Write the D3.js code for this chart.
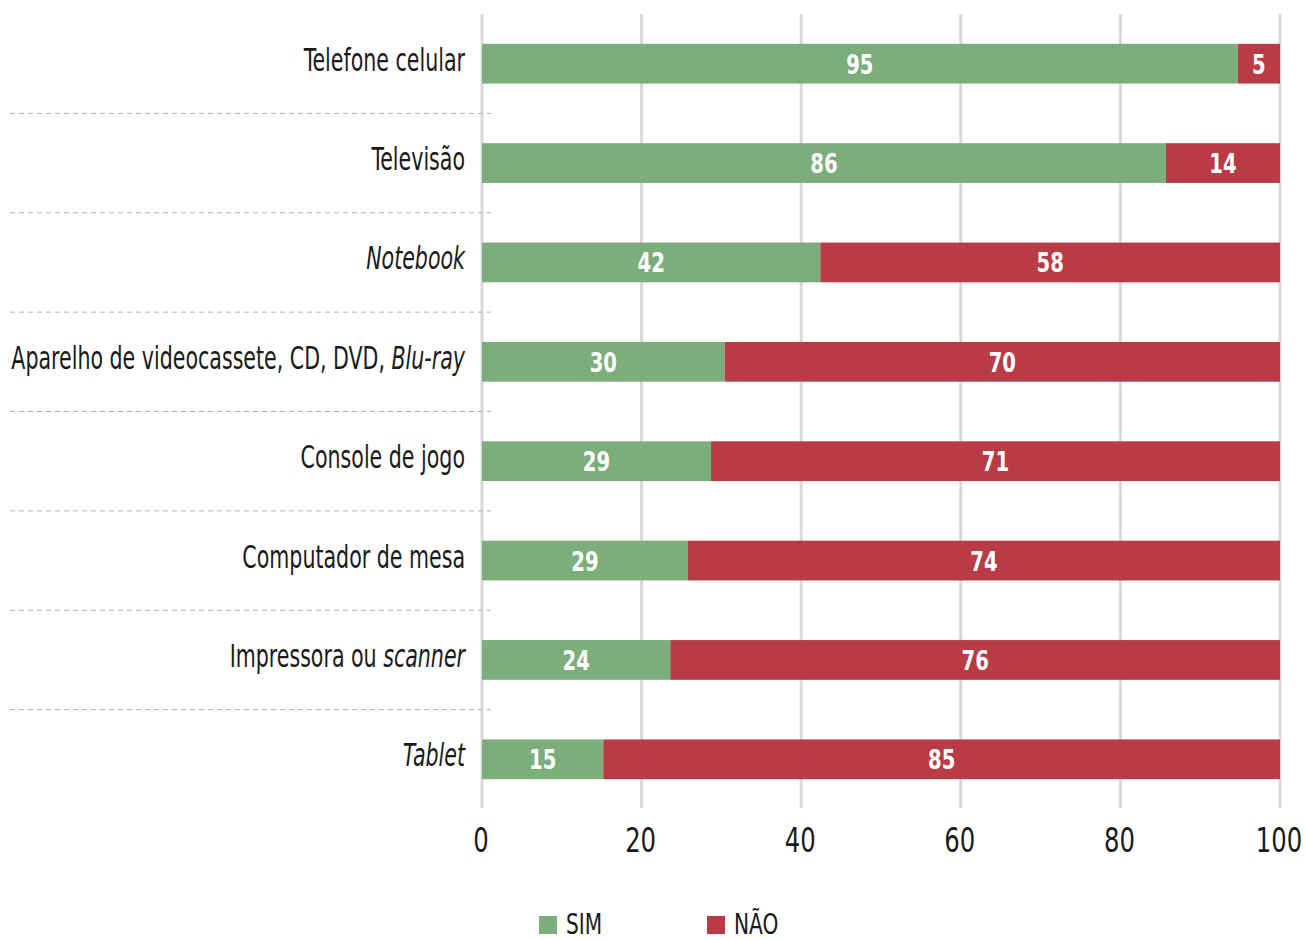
<!DOCTYPE html>
<html>
<head>
<meta charset="utf-8">
<script src="https://cdn.jsdelivr.net/npm/d3@7"></script>
<style>
  html, body { margin: 0; padding: 0; background: #fff; }
  svg { display: block; }
</style>
</head>
<body>
<svg id="chart"></svg>
<script>
// Categories (text between * is italic)
const categories = [
  'Telefone celular',
  'Televisão',
  '*Notebook*',
  'Aparelho de videocassete, CD, DVD, *Blu-ray*',
  'Console de jogo',
  'Computador de mesa',
  'Impressora ou *scanner*',
  '*Tablet*'
];

// bar lengths as drawn
const simValues = [94.7, 85.7, 42.4, 30.4, 28.7, 25.8, 23.6, 15.2];
const naoValues = [5.3, 14.3, 57.6, 69.6, 71.3, 74.2, 76.4, 84.8];

// labels printed on the bars
const simLabels = ['95', '86', '42', '30', '29', '29', '24', '15'];
const naoLabels = ['5', '14', '58', '70', '71', '74', '76', '85'];

const xTicks = [0, 20, 40, 60, 80, 100];
const seriesNames = ['SIM', 'NÃO'];

const COLORS = { sim: '#7bae7b', nao: '#b83b45' };
const FONT = '"Liberation Sans Narrow", "Arial Narrow", "DejaVu Sans Condensed", sans-serif';

const width = 1306, height = 940;
const svg = d3.select('#chart').attr('width', width).attr('height', height)
  .style('font-family', FONT);

const x = d3.scaleLinear().domain([0, 100]).range([482, 1280]);
const y = d3.scaleBand().domain(categories).range([14, 809])
  .paddingInner(0.6).paddingOuter(0.3);

// the available condensed font is wider than the original one, so squeeze it
function squeezed(sel, sx) {
  return sel.append('g')
    .attr('transform', d => `translate(${d.tx}, ${d.ty}) scale(${sx}, 1)`)
    .append('text');
}

// vertical gridlines
svg.append('g').selectAll('line').data(xTicks).join('line')
  .attr('x1', d => x(d)).attr('x2', d => x(d))
  .attr('y1', 14).attr('y2', 808)
  .attr('stroke', '#d9d9d9').attr('stroke-width', 3);

// dashed separators between categories
const seps = categories.slice(1).map((c, i) => (y(categories[i]) + y.bandwidth() + y(c)) / 2);
svg.append('g').selectAll('line').data(seps).join('line')
  .attr('x1', 10).attr('x2', 491)
  .attr('y1', d => d).attr('y2', d => d)
  .attr('stroke', '#b0b0b0').attr('stroke-width', 1)
  .attr('stroke-dasharray', '5,4');

// bars
const rows = categories.map((c, i) => ({
  cat: c, sim: simValues[i], nao: naoValues[i], simLabel: simLabels[i], naoLabel: naoLabels[i]
}));

const barG = svg.append('g');
barG.selectAll('rect.sim').data(rows).join('rect').attr('class', 'sim')
  .attr('x', x(0)).attr('y', d => y(d.cat))
  .attr('width', d => x(d.sim) - x(0)).attr('height', y.bandwidth())
  .attr('fill', COLORS.sim);
barG.selectAll('rect.nao').data(rows).join('rect').attr('class', 'nao')
  .attr('x', d => x(d.sim)).attr('y', d => y(d.cat))
  .attr('width', d => x(d.sim + d.nao) - x(d.sim)).attr('height', y.bandwidth())
  .attr('fill', COLORS.nao);

// value labels
const valueItems = [];
rows.forEach(d => {
  const ty = y(d.cat) + y.bandwidth() / 2 + 10;
  valueItems.push({ tx: (x(0) + x(d.sim)) / 2, ty, label: d.simLabel });
  valueItems.push({ tx: (x(d.sim) + x(d.sim + d.nao)) / 2, ty, label: d.naoLabel });
});
squeezed(svg.append('g').selectAll('g').data(valueItems).join('g'), 0.84)
  .attr('text-anchor', 'middle').attr('fill', '#fff')
  .attr('font-size', 26).attr('font-weight', 'bold')
  .text(d => d.label);

// category labels
const catItems = categories.map(c => ({ tx: 465, ty: y(c) + y.bandwidth() / 2 + 7, label: c }));
squeezed(svg.append('g').selectAll('g').data(catItems).join('g'), 0.715)
  .attr('text-anchor', 'end').attr('font-size', 32).attr('fill', '#1a1a1a')
  .each(function (d) {
    const t = d3.select(this);
    d.label.split('*').forEach((part, i) => {
      if (!part) return;
      t.append('tspan').attr('font-style', i % 2 ? 'italic' : 'normal').text(part);
    });
  });

// x axis labels
const tickItems = xTicks.map(t => ({ tx: x(t) - 1, ty: 852, label: t }));
squeezed(svg.append('g').selectAll('g').data(tickItems).join('g'), 0.82)
  .attr('text-anchor', 'middle').attr('font-size', 33).attr('fill', '#1a1a1a')
  .text(d => d.label);

// legend
const legX = [539, 707];
const legColors = [COLORS.sim, COLORS.nao];
svg.append('g').selectAll('rect').data(seriesNames).join('rect')
  .attr('x', (d, i) => legX[i]).attr('y', 916)
  .attr('width', 18).attr('height', 18)
  .attr('fill', (d, i) => legColors[i]);
const legItems = seriesNames.map((s, i) => ({ tx: legX[i] + 27, ty: 934, label: s }));
squeezed(svg.append('g').selectAll('g').data(legItems).join('g'), 0.8)
  .attr('font-size', 28).attr('fill', '#1a1a1a')
  .text(d => d.label);
</script>
</body>
</html>
